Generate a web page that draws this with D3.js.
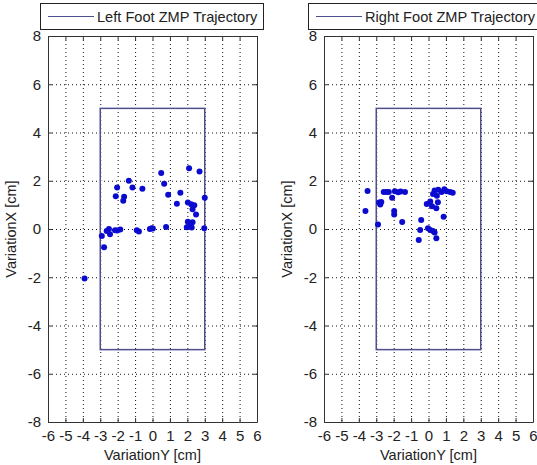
<!DOCTYPE html>
<html>
<head>
<meta charset="utf-8">
<script src="https://cdn.jsdelivr.net/npm/d3@7"></script>
<style>
  html, body { margin: 0; padding: 0; background: #fff; }
  svg text { font-family: "Liberation Sans", Arial, sans-serif; fill: #222; }
</style>
</head>
<body>
<svg id="chart" width="537" height="465"></svg>
<script>
// ZMP samples for each foot: [VariationY, VariationX] in cm
const leftFootZMP = [
  [-3.9, -2.05], [-2.91, -0.29], [-2.78, -0.76], [-2.63, -0.08], [-2.5, 0.0],
  [-2.44, -0.22], [-2.15, -0.05], [-2.02, -0.06], [-1.85, -0.02], [-2.03, 1.72],
  [-2.11, 1.36], [-1.63, 1.34], [-1.68, 1.17], [-1.36, 2.0], [-1.15, 1.72],
  [-0.58, 1.67], [-0.9, -0.05], [-0.78, -0.1], [-0.15, 0.0], [-0.05, 0.03],
  [0.02, 0.02], [0.5, 2.32], [0.67, 1.88], [0.9, 1.42], [0.78, 0.08],
  [1.4, 1.05], [1.6, 1.5], [2.1, 2.52], [2.7, 2.38], [2.03, 1.1],
  [2.22, 1.03], [2.4, 0.98], [2.3, 0.82], [2.5, 0.6], [3.0, 1.3],
  [2.03, 0.3], [2.15, 0.24], [2.3, 0.28], [1.97, 0.07], [2.1, 0.1],
  [2.25, 0.06], [2.97, 0.03]
];
const rightFootZMP = [
  [-3.5, 1.58], [-3.62, 0.75], [-2.9, 0.19], [-2.84, 1.1], [-2.77, 1.02],
  [-2.71, 1.12], [-2.57, 1.53], [-2.41, 1.53], [-2.28, 1.53], [-2.09, 1.3],
  [-1.93, 1.56], [-1.74, 1.52], [-1.6, 1.55], [-1.35, 1.53], [-1.97, 0.75],
  [-1.97, 0.6], [-1.51, 0.29], [-0.42, 0.37], [-0.48, -0.04], [-0.56, -0.46],
  [-0.03, 0.03], [0.1, -0.04], [0.26, -0.08], [0.35, -0.15], [0.45, -0.38],
  [-0.1, 1.04], [0.1, 1.14], [0.2, 0.94], [0.35, 1.6], [0.48, 1.38],
  [0.54, 1.11], [0.45, 0.86], [0.56, 1.63], [0.75, 1.53], [0.91, 1.65],
  [1.04, 1.56], [1.24, 1.53], [1.39, 1.5], [0.87, 0.51], [0.26, 1.45]
];
// Support polygon (foot sole) bounds in cm
const footBoxY = [-3, 3];
const footBoxX = [-5, 5];

const xTicks = [-6, -5, -4, -3, -2, -1, 0, 1, 2, 3, 4, 5, 6];
const yTicks = [-8, -6, -4, -2, 0, 2, 4, 6, 8];
const legendLabels = ["Left Foot ZMP Trajectory", "Right Foot ZMP Trajectory"];
const xAxisTitle = "VariationY [cm]";
const yAxisTitle = "VariationX [cm]";

const svg = d3.select("#chart");
const panels = [
  { data: leftFootZMP, label: legendLabels[0], left: 48, right: 257, legendX: 40, legendW: 223 },
  { data: rightFootZMP, label: legendLabels[1], left: 324, right: 533, legendX: 308, legendW: 234 }
];
const plotTop = 36, plotBottom = 422;
const boxColor = "#4f4f8c";
const pointColor = "#0b0bd0";
const plainNumber = d => String(d);   // ASCII hyphen for negatives

panels.forEach(p => {
  const x = d3.scaleLinear().domain([-6, 6]).range([p.left, p.right]);
  const y = d3.scaleLinear().domain([-8, 8]).range([plotBottom, plotTop]);
  const g = svg.append("g");

  // dotted grid
  g.append("g").selectAll("line")
    .data(xTicks.filter(t => t > -6 && t < 6)).join("line")
    .attr("x1", d => x(d) + 0.5).attr("x2", d => x(d) + 0.5)
    .attr("y1", plotTop).attr("y2", plotBottom)
    .attr("stroke", "#111").attr("stroke-width", 1).attr("stroke-dasharray", "1,3");
  g.append("g").selectAll("line")
    .data(yTicks.filter(t => t > -8 && t < 8)).join("line")
    .attr("y1", d => y(d) + 0.5).attr("y2", d => y(d) + 0.5)
    .attr("x1", p.left).attr("x2", p.right)
    .attr("stroke", "#111").attr("stroke-width", 1).attr("stroke-dasharray", "1,3");

  // axes with inward ticks on all four sides
  const axB = d3.axisBottom(x).tickValues(xTicks).tickFormat(plainNumber).tickSizeInner(-4).tickSizeOuter(0).tickPadding(8);
  const axT = d3.axisTop(x).tickValues(xTicks).tickSizeInner(-4).tickSizeOuter(0).tickFormat("");
  const axL = d3.axisLeft(y).tickValues(yTicks).tickFormat(plainNumber).tickSizeInner(-4).tickSizeOuter(0).tickPadding(7);
  const axR = d3.axisRight(y).tickValues(yTicks).tickSizeInner(-4).tickSizeOuter(0).tickFormat("");

  const styleAxis = sel => {
    sel.attr("font-family", null).attr("font-size", null);
    sel.select(".domain").attr("stroke", "#333");
    sel.selectAll(".tick line").attr("stroke", "#333");
    sel.selectAll(".tick text").style("font-size", "15px").attr("fill", "#222");
  };
  g.append("g").attr("transform", `translate(0,${plotBottom})`).call(axB).call(styleAxis);
  g.append("g").attr("transform", `translate(0,${plotTop})`).call(axT).call(styleAxis);
  g.append("g").attr("transform", `translate(${p.left},0)`).call(axL).call(styleAxis);
  g.append("g").attr("transform", `translate(${p.right},0)`).call(axR).call(styleAxis);

  // foot support rectangle
  g.append("rect")
    .attr("x", x(footBoxY[0])).attr("y", y(footBoxX[1]))
    .attr("width", x(footBoxY[1]) - x(footBoxY[0]))
    .attr("height", y(footBoxX[0]) - y(footBoxX[1]))
    .attr("fill", "none").attr("stroke", boxColor).attr("stroke-width", 1.5);

  // ZMP samples
  g.append("g").selectAll("circle")
    .data(p.data).join("circle")
    .attr("cx", d => x(d[0])).attr("cy", d => y(d[1]))
    .attr("r", 3)
    .attr("fill", pointColor);

  // axis titles
  g.append("text")
    .attr("x", (p.left + p.right) / 2).attr("y", 460)
    .attr("text-anchor", "middle").style("font-size", "14.5px")
    .text(xAxisTitle);
  g.append("text")
    .attr("transform", `translate(${p.left - 32},${(plotTop + plotBottom) / 2}) rotate(-90)`)
    .attr("text-anchor", "middle").style("font-size", "14.5px")
    .text(yAxisTitle);

  // legend
  const lg = g.append("g");
  lg.append("rect")
    .attr("x", p.legendX + 0.5).attr("y", 3.5)
    .attr("width", p.legendW).attr("height", 26)
    .attr("fill", "#fff").attr("stroke", "#222").attr("stroke-width", 1);
  lg.append("line")
    .attr("x1", p.legendX + 8).attr("x2", p.legendX + 54)
    .attr("y1", 16.5).attr("y2", 16.5)
    .attr("stroke", boxColor).attr("stroke-width", 1.2);
  lg.append("text")
    .attr("x", p.legendX + 57).attr("y", 22)
    .style("font-size", "14.6px")
    .text(p.label);
});
</script>
</body>
</html>
